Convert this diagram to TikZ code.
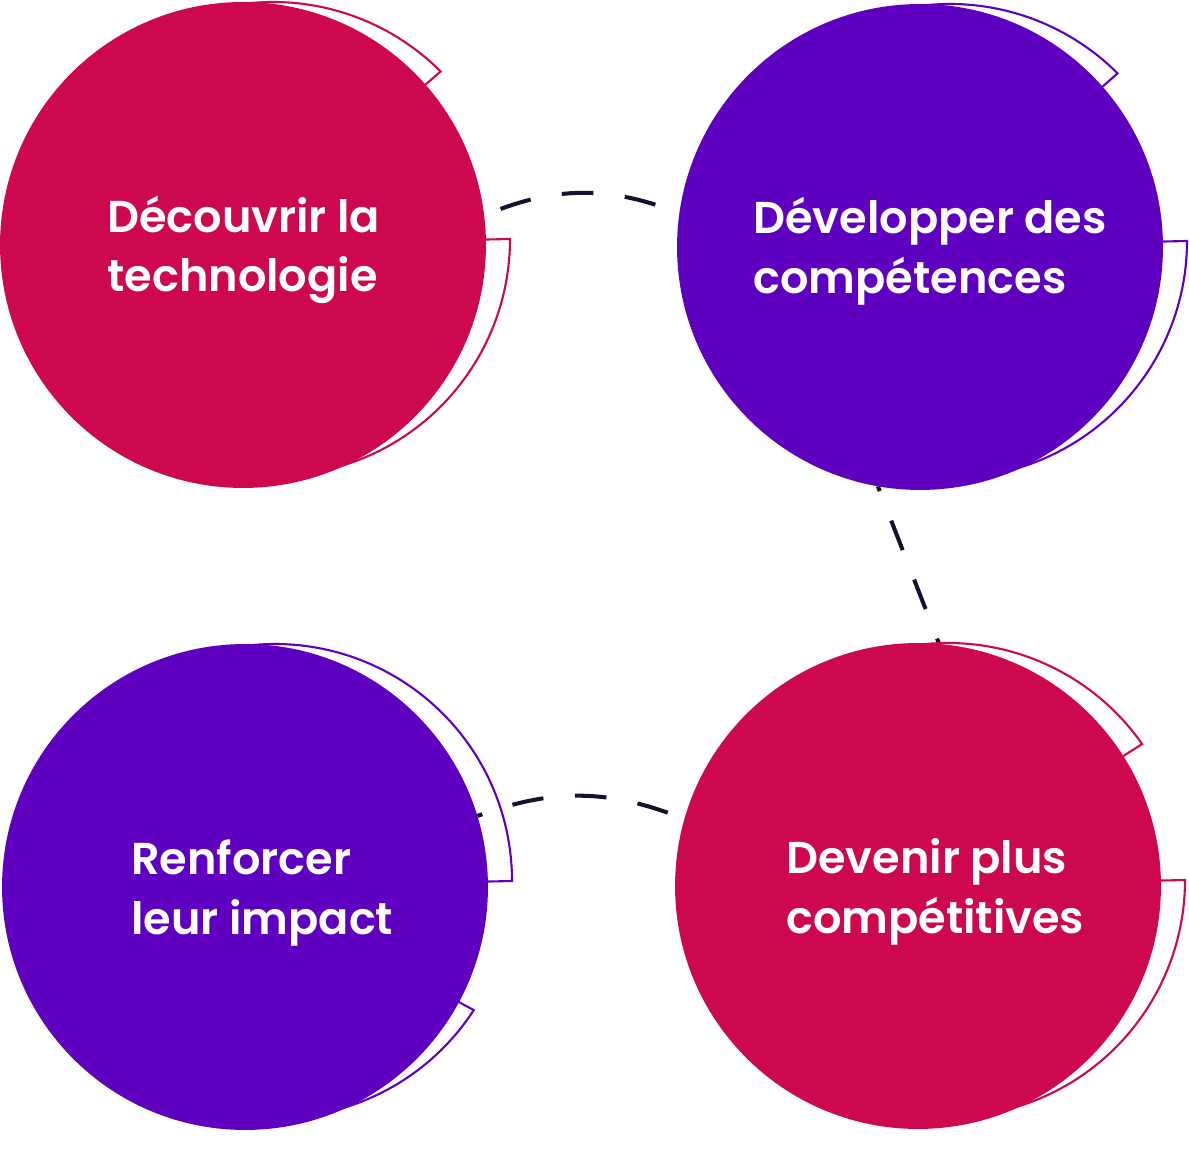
\documentclass[tikz,border=0pt]{standalone}
\usepackage{fontspec}
\setmainfont{Poppins SemiBold}
\usetikzlibrary{calc,backgrounds}
\definecolor{stepred}{RGB}{206,8,78}
\definecolor{stepviolet}{RGB}{95,0,192}
\definecolor{linknavy}{RGB}{18,19,46}

% open rim behind a bubble: node, colour, start angle, end angle
\newcommand\rimseg[4]{%
  \draw[rim, draw=#2] (#1.center) -- ($(#1.center)+(30,6)+(#3:237)$)
    arc[start angle=#3, end angle=#4, radius=237] -- cycle;}

\begin{document}
\begin{tikzpicture}[
    x=0.02cm, y=0.02cm,
    bubble/.style={circle, minimum size=9.72cm, inner sep=0pt, outer sep=0pt},
    redbubble/.style={bubble, fill=stepred},
    violetbubble/.style={bubble, fill=stepviolet},
    rim/.style={line width=1.2pt, line join=miter},
    link/.style={draw=linknavy, line width=2.3pt, dash pattern=on 18pt off 18pt},
    lbl/.style={text=white, align=left, anchor=west, inner sep=0pt,
                font=\fontsize{25.4}{34}\selectfont},
  ]
  \useasboundingbox (0,0) rectangle (1189,1156);

  % the four bubbles
  \node[redbubble]    (decouvrir)  at (243,911) {};
  \node[violetbubble] (developper) at (920,909) {};
  \node[redbubble]    (devenir)    at (918,270) {};
  \node[violetbubble] (renforcer)  at (245,269) {};

  \begin{pgfonlayer}{background}
    % dashed links
    \draw[link, dash phase=26pt] (decouvrir.7) to[bend left=22] (developper.172);
    \draw[link, dash phase=15pt] (developper.-100) -- (devenir.85);
    \draw[link, dash phase=15pt] (renforcer.17) to[bend left=21] (devenir.164);

    % rims
    \rimseg{decouvrir}{stepred}{45}{100}
    \rimseg{decouvrir}{stepred}{-100}{0}
    \rimseg{developper}{stepviolet}{45}{100}
    \rimseg{developper}{stepviolet}{-100}{0}
    \rimseg{devenir}{stepred}{35}{100}
    \rimseg{devenir}{stepred}{-100}{0}
    \rimseg{renforcer}{stepviolet}{0}{100}
    \rimseg{renforcer}{stepviolet}{-100}{-33}
  \end{pgfonlayer}

  % labels
  \node[lbl] (t1) at ($(decouvrir)+(-136,-5)$)  {Découvrir la\\technologie};
  \node[lbl] (t2) at ($(developper)+(-167,-4)$) {Développer des\\compétences};
  \node[lbl] (t3) at ($(devenir)+(-132,-6)$)    {Devenir plus\\compétitives};
  \node[lbl] (t4) at ($(renforcer)+(-114,-6)$)  {Renforcer\\leur impact};

\end{tikzpicture}
\end{document}
